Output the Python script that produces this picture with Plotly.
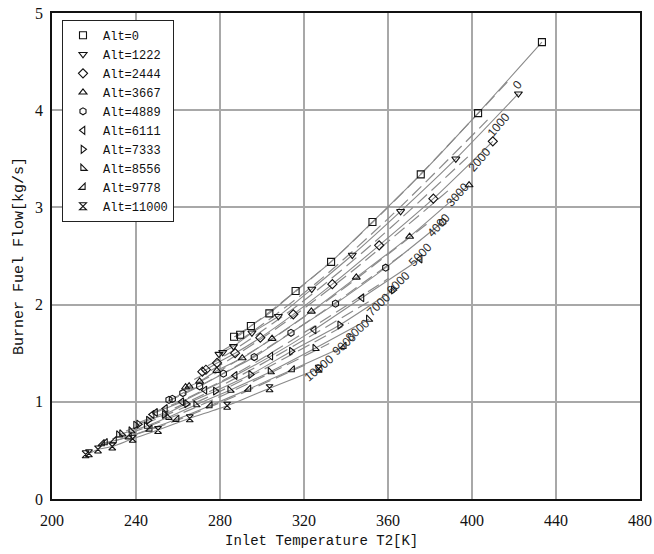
import plotly.graph_objects as go

# ---- measured series (Alt in m): inlet temperature T2 [K] and fuel flow [kg/s]
ALT_NAMES = ["Alt=0", "Alt=1222", "Alt=2444", "Alt=3667", "Alt=4889",
             "Alt=6111", "Alt=7333", "Alt=8556", "Alt=9778", "Alt=11000"]
SYMBOLS = ["square-open", "triangle-down-open", "diamond-open", "triangle-up-open",
           "hexagon-open", "triangle-left-open", "triangle-right-open",
           "triangle-sw-open", "triangle-se-open", "hourglass-open"]

T2_0 = [286.7, 289.6, 294.7, 303.5, 316.0, 332.9, 352.6, 375.6, 402.9, 433.3]
FF_0 = [1.67, 1.69, 1.78, 1.91, 2.14, 2.44, 2.85, 3.34, 3.97, 4.70]
T2_1222 = [279.5, 281.3, 286.4, 295.2, 307.8, 323.7, 343.0, 366.0, 392.3, 422.1]
FF_1222 = [1.49, 1.51, 1.57, 1.71, 1.88, 2.16, 2.51, 2.96, 3.50, 4.17]
T2_2444 = [271.6, 273.3, 278.6, 287.2, 299.2, 314.9, 333.5, 355.8, 381.6, 409.9]
FF_2444 = [1.31, 1.33, 1.40, 1.50, 1.66, 1.90, 2.21, 2.61, 3.09, 3.68]
T2_3667 = [263.6, 265.3, 270.3, 278.5, 290.6, 304.8, 323.5, 344.9, 370.3, 398.6]
FF_3667 = [1.15, 1.16, 1.21, 1.32, 1.45, 1.65, 1.93, 2.28, 2.70, 3.23]
T2_4889 = [255.7, 257.3, 262.3, 270.3, 281.6, 296.3, 313.8, 335.0, 358.9, 386.1]
FF_4889 = [1.02, 1.03, 1.09, 1.16, 1.29, 1.46, 1.71, 2.01, 2.38, 2.85]
T2_6111 = [247.7, 249.3, 254.0, 261.8, 272.8, 287.2, 304.2, 324.8, 347.6, 375.3]
FF_6111 = [0.87, 0.89, 0.93, 1.00, 1.12, 1.27, 1.47, 1.74, 2.07, 2.47]
T2_7333 = [239.8, 241.3, 245.9, 253.5, 264.1, 277.8, 294.6, 314.0, 337.0, 362.5]
FF_7333 = [0.76, 0.77, 0.81, 0.87, 0.98, 1.11, 1.28, 1.52, 1.79, 2.15]
T2_8556 = [231.8, 233.3, 237.7, 245.0, 255.3, 268.6, 284.8, 304.0, 325.3, 350.8]
FF_8556 = [0.66, 0.67, 0.70, 0.75, 0.84, 0.97, 1.12, 1.31, 1.55, 1.85]
T2_9778 = [223.9, 225.3, 229.6, 236.7, 246.6, 259.4, 275.2, 293.6, 314.4, 339.0]
FF_9778 = [0.57, 0.58, 0.60, 0.64, 0.72, 0.82, 0.96, 1.13, 1.33, 1.57]
T2_11000 = [216.0, 217.6, 221.9, 228.7, 238.4, 250.5, 265.6, 283.4, 303.6, 327.0]
FF_11000 = [0.46, 0.47, 0.51, 0.54, 0.62, 0.71, 0.83, 0.96, 1.14, 1.34]

SERIES_T2 = [T2_0, T2_1222, T2_2444, T2_3667, T2_4889, T2_6111, T2_7333, T2_8556, T2_9778, T2_11000]
SERIES_FF = [FF_0, FF_1222, FF_2444, FF_3667, FF_4889, FF_6111, FF_7333, FF_8556, FF_9778, FF_11000]

# ---- dashed constant-altitude curves (labelled 0 ... 10000)
DASH_LABELS = ["0", "1000", "2000", "3000", "4000", "5000", "6000", "7000", "8000", "9000", "10000"]
DT2_0 = [287.2, 301.6, 333.8, 370.1, 416.8]
DFF_0 = [1.67, 1.89, 2.46, 3.22, 4.29]
DT2_1000 = [280.7, 294.7, 326.3, 361.8, 407.4]
DFF_1000 = [1.52, 1.71, 2.23, 2.92, 3.90]
DT2_2000 = [274.2, 287.9, 318.7, 353.4, 398.0]
DFF_2000 = [1.37, 1.55, 2.02, 2.64, 3.52]
DT2_3000 = [267.7, 281.1, 311.2, 345.0, 388.5]
DFF_3000 = [1.23, 1.39, 1.82, 2.38, 3.17]
DT2_4000 = [261.2, 274.3, 303.6, 336.6, 379.1]
DFF_4000 = [1.11, 1.25, 1.63, 2.13, 2.84]
DT2_5000 = [254.7, 267.4, 296.1, 328.3, 369.7]
DFF_5000 = [1.00, 1.13, 1.47, 1.92, 2.56]
DT2_6000 = [248.2, 260.6, 288.5, 319.9, 360.3]
DFF_6000 = [0.89, 1.00, 1.30, 1.71, 2.27]
DT2_7000 = [241.7, 253.8, 281.0, 311.5, 350.8]
DFF_7000 = [0.79, 0.89, 1.17, 1.53, 2.03]
DT2_8000 = [235.2, 247.0, 273.4, 303.2, 341.4]
DFF_8000 = [0.70, 0.80, 1.04, 1.36, 1.81]
DT2_9000 = [228.7, 240.1, 265.9, 294.8, 332.0]
DFF_9000 = [0.62, 0.70, 0.92, 1.20, 1.60]
DT2_10000 = [222.2, 233.3, 258.3, 286.4, 322.6]
DFF_10000 = [0.55, 0.62, 0.80, 1.05, 1.40]

DASH_T2 = [DT2_0, DT2_1000, DT2_2000, DT2_3000, DT2_4000, DT2_5000,
           DT2_6000, DT2_7000, DT2_8000, DT2_9000, DT2_10000]
DASH_FF = [DFF_0, DFF_1000, DFF_2000, DFF_3000, DFF_4000, DFF_5000,
           DFF_6000, DFF_7000, DFF_8000, DFF_9000, DFF_10000]

# label anchor positions (data coordinates)
LABEL_T2 = [421.6, 412.6, 403.4, 393.0, 384.2, 375.3, 364.9, 355.3, 345.7, 339.3, 327.2]
LABEL_FF = [4.26, 3.85, 3.49, 3.13, 2.82, 2.51, 2.22, 2.00, 1.74, 1.59, 1.35]
LABEL_ANGLE = [-50, -50, -49, -48, -47, -46, -45, -44, -42, -41, -40]

X_TICKS = [200, 240, 280, 320, 360, 400, 440, 480]
Y_TICKS = [0, 1, 2, 3, 4, 5]
X_TITLE = "Inlet Temperature T2[K]"
Y_TITLE = "Burner Fuel Flow[kg/s]"

MONO = "Liberation Mono"
LINE_GREY = "#8a8a8a"

fig = go.Figure()

# dashed curves
for xs, ys in zip(DASH_T2, DASH_FF):
    fig.add_trace(go.Scatter(x=xs, y=ys, mode="lines", showlegend=False, hoverinfo="skip",
                             line=dict(color=LINE_GREY, width=1.2, dash="13px,6px",
                                       shape="spline", smoothing=0.8)))

# solid series lines
for xs, ys in zip(SERIES_T2, SERIES_FF):
    fig.add_trace(go.Scatter(x=xs, y=ys, mode="lines", showlegend=False, hoverinfo="skip",
                             line=dict(color=LINE_GREY, width=1.1, shape="spline", smoothing=0.6)))

# markers (legend)
for name, sym, xs, ys in zip(ALT_NAMES, SYMBOLS, SERIES_T2, SERIES_FF):
    fig.add_trace(go.Scatter(x=xs, y=ys, mode="markers", name=name,
                             marker=dict(symbol=sym, size=7, color="#111111",
                                         line=dict(width=1.1, color="#111111"))))

for txt, lx, ly, ang in zip(DASH_LABELS, LABEL_T2, LABEL_FF, LABEL_ANGLE):
    fig.add_annotation(x=lx, y=ly, text=txt, showarrow=False, textangle=ang,
                       xanchor="center", yanchor="middle",
                       font=dict(family="Liberation Sans", size=12, color="#2a2a2a"))

# x-axis title (placed slightly left of the plot centre, as in the reference)
fig.add_annotation(x=0.458, y=-0.086, xref="paper", yref="paper", text=X_TITLE,
                   showarrow=False, xanchor="center", yanchor="middle",
                   font=dict(family=MONO, size=14, color="#111111"))

fig.update_layout(
    width=654, height=554,
    margin=dict(l=52, r=14, t=13, b=55),
    paper_bgcolor="white", plot_bgcolor="white",
    showlegend=True,
    legend=dict(x=0.017, y=0.986, xanchor="left", yanchor="top",
                bgcolor="white", bordercolor="#222222", borderwidth=1,
                font=dict(family=MONO, size=12, color="#111111"),
                tracegroupgap=0, itemwidth=30),
    xaxis=dict(range=[200, 480], tickvals=X_TICKS, ticktext=[str(v) for v in X_TICKS],
               showgrid=True, gridcolor="#a8a8a8", gridwidth=1.5, zeroline=False,
               showline=True, linecolor="#111111", linewidth=1.6, mirror=True,
               ticks="", ticklabelstandoff=6, automargin=False,
               tickfont=dict(family="Liberation Serif", size=16, color="#111111")),
    yaxis=dict(range=[0, 5], tickvals=Y_TICKS, ticktext=[str(v) for v in Y_TICKS],
               showgrid=True, gridcolor="#a8a8a8", gridwidth=1.5, zeroline=False,
               showline=True, linecolor="#111111", linewidth=1.6, mirror=True,
               ticks="", ticklabelstandoff=4, automargin=False,
               tickfont=dict(family="Liberation Serif", size=16, color="#111111"),
               title=dict(text=Y_TITLE, standoff=8,
                          font=dict(family=MONO, size=15, color="#111111"))),
)

fig.write_html("out.html")
